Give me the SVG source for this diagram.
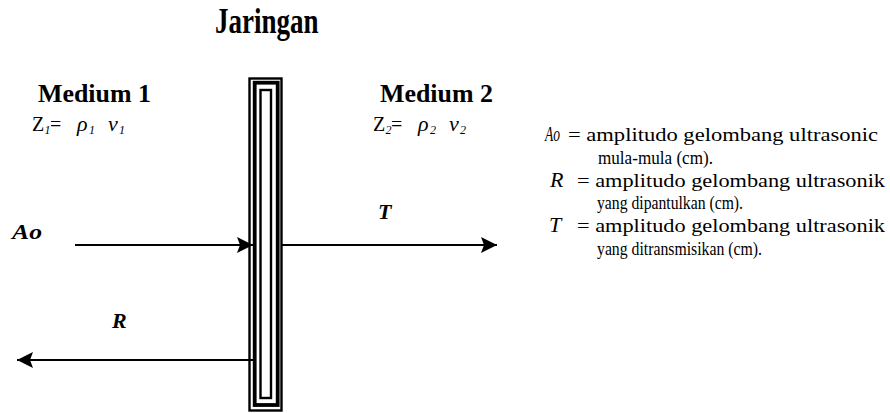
<svg xmlns="http://www.w3.org/2000/svg" width="890" height="413" viewBox="0 0 890 413">
<defs>
<style>
text{font-family:"Liberation Serif","Times New Roman",serif;fill:#000}
.hd{font-weight:bold}
.eq{font-size:20px}
.it{font-style:italic;font-size:22px}
.sub{font-size:12px;font-style:italic}
.lab{font-weight:bold;font-style:italic;font-size:22px}
.leg{font-size:19px}
.wire{stroke:#000;stroke-width:1.8;fill:none}
.bar{fill:none;stroke:#000}
</style>
<marker id="ah" markerUnits="userSpaceOnUse" markerWidth="18" markerHeight="18" refX="16" refY="8" orient="auto">
<path d="M0,0 L16,8 L0,16 L3,8 Z" fill="#000"/>
</marker>
</defs>
<rect width="890" height="413" fill="#fff"/>

<g id="jaringan">
<text class="hd" font-size="27" transform="translate(215,33) scale(1,1.3)">Jaringan</text>
<rect class="bar" x="249.5" y="78.5" width="32" height="332" stroke-width="2.4"/>
<rect class="bar" x="254.7" y="82.7" width="23" height="322.3" stroke-width="3.8"/>
<rect class="bar" x="260.5" y="90" width="10.5" height="308" stroke-width="2.4"/>
</g>

<g id="medium1">
<text class="hd" x="38" y="102" font-size="26" textLength="113" lengthAdjust="spacingAndGlyphs">Medium 1</text>
<text class="eq" y="131"><tspan x="32">Z</tspan><tspan class="sub" x="44.5" y="134">1</tspan><tspan x="50" y="131">=</tspan><tspan class="it" x="77" y="131">ρ</tspan><tspan class="sub" x="89" y="134">1</tspan><tspan class="it" x="108" y="131">v</tspan><tspan class="sub" x="119" y="134">1</tspan></text>
</g>

<g id="medium2">
<text class="hd" x="380" y="102" font-size="26" textLength="113" lengthAdjust="spacingAndGlyphs">Medium 2</text>
<text class="eq" y="131"><tspan x="373">Z</tspan><tspan class="sub" x="385.5" y="134">2</tspan><tspan x="391" y="131">=</tspan><tspan class="it" x="418" y="131">ρ</tspan><tspan class="sub" x="430" y="134">2</tspan><tspan class="it" x="449" y="131">v</tspan><tspan class="sub" x="460" y="134">2</tspan></text>
</g>

<g id="connectors">
<line class="wire" x1="75" y1="245" x2="253" y2="245" marker-end="url(#ah)"/>
<line class="wire" x1="282" y1="245" x2="497" y2="245" marker-end="url(#ah)"/>
<line class="wire" x1="253" y1="360" x2="17" y2="360" marker-end="url(#ah)"/>
<text class="lab" x="12" y="239" textLength="30" lengthAdjust="spacingAndGlyphs">Ao</text>
<text class="lab" x="378" y="219">T</text>
<text class="lab" x="112" y="328">R</text>
</g>

<g id="legend" class="leg">
<text class="it" x="545" y="141" font-size="18" textLength="15" lengthAdjust="spacingAndGlyphs">Ao</text>
<text x="568" y="141" textLength="310" lengthAdjust="spacingAndGlyphs">= amplitudo gelombang ultrasonic</text>
<text x="598" y="164" textLength="115" lengthAdjust="spacingAndGlyphs">mula-mula (cm).</text>
<text class="it" x="550" y="187" font-size="19">R</text>
<text x="577" y="187" textLength="308" lengthAdjust="spacingAndGlyphs">= amplitudo gelombang ultrasonik</text>
<text x="597" y="209" textLength="146" lengthAdjust="spacingAndGlyphs">yang dipantulkan (cm).</text>
<text class="it" x="549" y="232" font-size="19">T</text>
<text x="577" y="232" textLength="308" lengthAdjust="spacingAndGlyphs">= amplitudo gelombang ultrasonik</text>
<text x="597" y="255" textLength="165" lengthAdjust="spacingAndGlyphs">yang ditransmisikan (cm).</text>
</g>
</svg>
